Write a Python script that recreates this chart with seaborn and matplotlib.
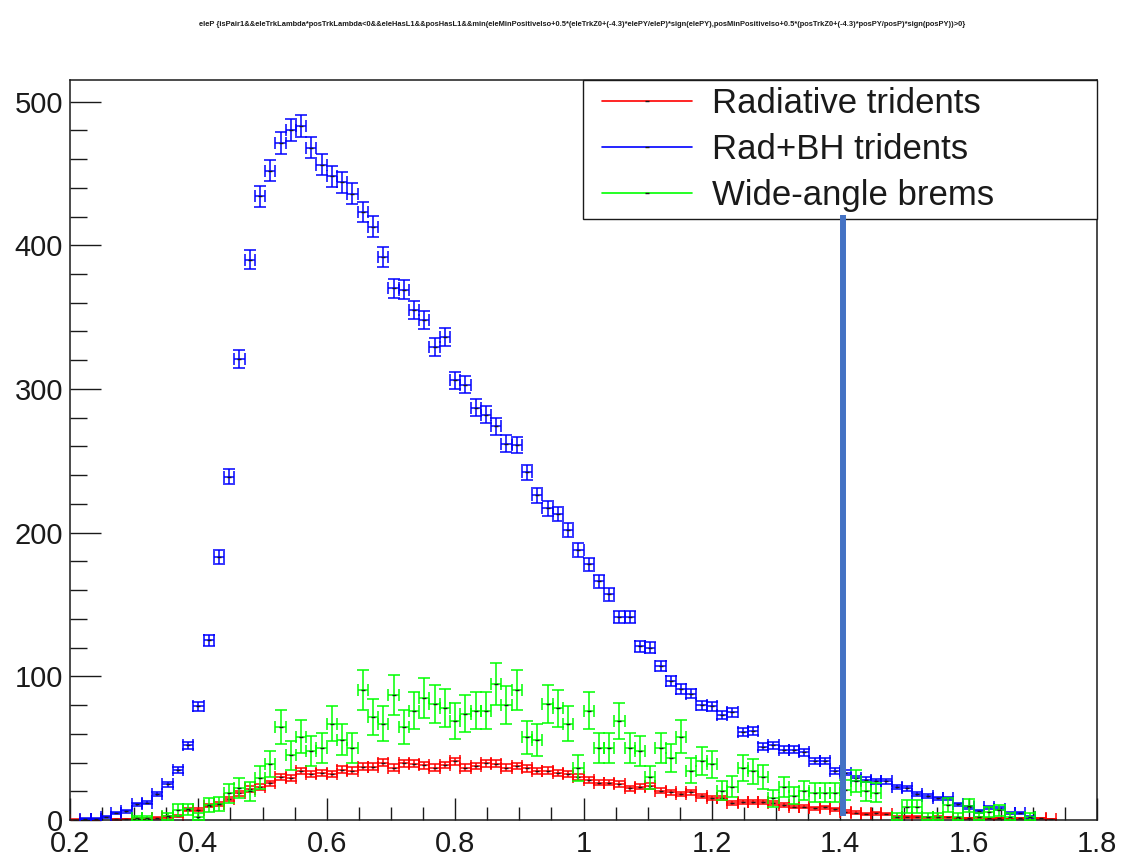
import numpy as np
import matplotlib
matplotlib.use("Agg")
import matplotlib.pyplot as plt
import seaborn as sns
from matplotlib.lines import Line2D
from matplotlib.legend_handler import HandlerLine2D
from matplotlib.ticker import MultipleLocator

# ---------------- data (100 bins from 0.2 to 1.8) ----------------
x_low, x_high, n_bins = 0.2, 1.8, 100

radiative = [0.3, 0, 0.5, 0, 0.5, 0.7, 1, 1, 1.5, 2,
             3, 7, 7, 10, 11, 14.5, 18.6, 21.6, 23, 25.5,
             30, 29, 34, 32, 32.5, 32, 35, 34.3, 37, 37,
             39.9, 36.4, 39.4, 39, 38, 36.4, 38.3, 41, 36.4, 37.6,
             39.4, 39, 36.4, 37.6, 36, 34, 34.3, 32.5, 32, 30.2,
             27.6, 26, 26, 25, 22, 23.2, 23.7, 20.2, 19.3, 18,
             19.3, 16.7, 15.1, 15.1, 12, 12.8, 12.8, 12.8, 11.6, 10.4,
             9.3, 9.3, 8.1, 8.8, 7.4, 5.8, 5.1, 4.2, 4.6, 4.2,
             2.3, 2.3, 2.3, 1.9, 2.3, 1.9, 1.2, 1.2, 1.9, 1.2,
             1.2, 0.7, 1.2, 0.7, 1.2, 0.7, 0, 0, 0, 0]

rad_bh = [0, 1, 1, 2, 5, 6, 11, 12, 18, 25,
          35, 52, 79, 125, 183, 239, 321, 390, 434, 452,
          471, 480, 483, 468, 456, 448, 444, 436, 423, 413,
          392, 370, 369, 355, 348, 329, 336, 306, 303, 287,
          282, 274, 262, 261, 242, 226, 217, 213, 202, 188,
          178, 166, 157, 141, 141, 121, 120, 107, 97, 91,
          88, 80, 79, 73, 75, 61, 62, 51, 52, 49,
          49, 47, 41, 41, 34, 33, 29, 28, 27, 27,
          23, 22, 18, 17, 15, 15, 11, 9, 6, 9,
          8, 5, 5, 2, 0, 0, 0, 0, 0, 0]

wide_angle = [0, 0, 0, 0, 0, 0, 1.2, 1.2, 0, 2.5,
              7, 7.4, 2.3, 10.5, 11, 18.5, 22.5, 20, 29.5, 39,
              64.5, 45, 58, 48, 50, 67, 56, 50, 90.5, 71.5,
              67, 87, 64.5, 76, 85, 80.5, 78, 69, 74, 76,
              76, 94.6, 80, 90.5, 57.5, 55.7, 80.5, 77.7, 67, 36.4,
              76, 50, 50, 69, 50, 48, 29.7, 50, 43.4, 58,
              34.3, 41, 38.7, 20.4, 23.2, 36.4, 34, 30, 15, 23,
              17, 20.5, 19, 19, 19, 21, 27, 20, 19, 0,
              2.3, 9.3, 9.3, 2.3, 2.3, 10.5, 2.3, 10, 2.3, 5.5,
              6.8, 2.3, 0, 2.3, 0, 0, 0, 0, 0, 0]

# per-event weights (error = sqrt(weight * content))
weight_rad, weight_radbh, weight_wab = 0.15, 0.12, 2.2

labels = ["Radiative tridents", "Rad+BH tridents", "Wide-angle brems"]
colors = ["#FF0000", "#0000FF", "#00FF00"]

cut_x, cut_y0, cut_y1 = 1.405, 3, 421

title = ("eleP {isPair1&&eleTrkLambda*posTrkLambda<0&&eleHasL1&&posHasL1&&"
         "min(eleMinPositiveIso+0.5*(eleTrkZ0+(-4.3)*elePY/eleP)*sign(elePY),"
         "posMinPositiveIso+0.5*(posTrkZ0+(-4.3)*posPY/posP)*sign(posPY))>0}")

# ---------------- style ----------------
sns.set_theme(style="white")
plt.rcParams["font.family"] = ["Liberation Sans", "DejaVu Sans"]
plt.rcParams["text.color"] = "k"

fig = plt.figure(figsize=(11.22, 8.58), dpi=100)
ax = fig.add_axes([70 / 1122, 38 / 858, 1027 / 1122, 740 / 858])

edges = np.linspace(x_low, x_high, n_bins + 1)
centers = 0.5 * (edges[:-1] + edges[1:])
half = 0.5 * (edges[1] - edges[0])

series = [(radiative, weight_rad), (rad_bh, weight_radbh), (wide_angle, weight_wab)]
for k, ((vals, w), col) in enumerate(zip(series, colors)):
    v = np.asarray(vals, float)
    m = v > 0
    err = np.sqrt(w * v[m])
    ax.errorbar(centers[m], v[m], xerr=half, yerr=err, fmt="none",
                ecolor=col, elinewidth=1.1, capsize=4.5, capthick=1.1,
                zorder=2 + k)
    sns.scatterplot(x=centers[m], y=v[m], marker="_", color="k", s=12,
                    linewidth=1.0, ax=ax, zorder=2.5 + k, legend=False)

ax.plot([cut_x, cut_x], [cut_y0, cut_y1], color="#4472C4", lw=4.3,
        solid_capstyle="butt", zorder=10)

ax.set_xlim(x_low, x_high)
ax.set_ylim(0, 515)
ax.xaxis.set_major_locator(MultipleLocator(0.2))
ax.xaxis.set_minor_locator(MultipleLocator(0.05))
ax.yaxis.set_major_locator(MultipleLocator(100))
ax.yaxis.set_minor_locator(MultipleLocator(20))
ax.set_xticks(np.arange(0.2, 1.81, 0.2))
ax.set_xticklabels(["0.2", "0.4", "0.6", "0.8", "1", "1.2", "1.4", "1.6", "1.8"])
ax.tick_params(axis="both", which="both", direction="in", top=False, right=False,
               bottom=True, left=True, colors="k", labelsize=21, width=1.0)
ax.tick_params(axis="x", which="major", length=16, pad=7)
ax.tick_params(axis="x", which="minor", length=9.5)
ax.tick_params(axis="y", which="major", length=22, pad=5)
ax.tick_params(axis="y", which="minor", length=12)
for s in ax.spines.values():
    s.set_color("k")
    s.set_linewidth(1.1)
ax.set_xlabel("")
ax.set_ylabel("")

handles = [Line2D([0], [0], color=c, lw=1.2, marker="_", mec="k", ms=3) for c in colors]
leg = ax.legend(handles, labels, loc="upper left",
                bbox_to_anchor=(0.4995, 0.8135, 0.5005, 0.1865), mode="expand",
                fontsize=25, frameon=True, fancybox=False, framealpha=1,
                edgecolor="k", borderaxespad=0, handlelength=2.94,
                handletextpad=0.57, labelspacing=0.38, borderpad=0.2,
                handler_map={Line2D: HandlerLine2D(xpad=0.34)})
leg.get_frame().set_linewidth(1.0)
for t in leg.get_texts():
    t.set_color("k")

fig.text(0.519, 0.971, title, ha="center", va="center", fontsize=5.45,
         fontweight="bold", color="k")

fig.savefig("out.png", dpi=100)
